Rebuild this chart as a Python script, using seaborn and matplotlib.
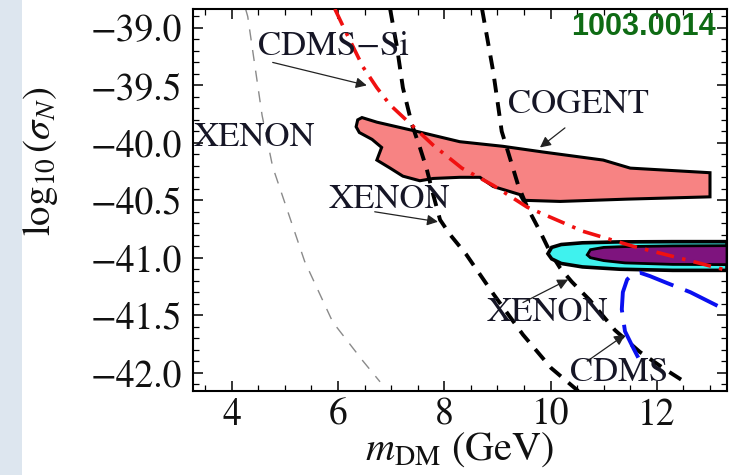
import matplotlib
matplotlib.use("Agg")
import matplotlib.pyplot as plt
import seaborn as sns
from matplotlib.patches import Rectangle
from matplotlib.ticker import MultipleLocator

sns.set_theme(style="ticks")
plt.rcParams['font.family'] = ['STIXGeneral', 'DejaVu Serif']
plt.rcParams['mathtext.fontset'] = 'stix'
plt.rcParams['lines.scale_dashes'] = False
plt.rcParams['axes.unicode_minus'] = True

# ---------------- data ----------------
x_ticks = [4, 6, 8, 10, 12]
x_tick_labels = ["4", "6", "8", "10", "12"]
y_ticks = [-42.0, -41.5, -41.0, -40.5, -40.0, -39.5, -39.0]
y_tick_labels = ["\u221242.0", "\u221241.5", "\u221241.0", "\u221240.5",
                 "\u221240.0", "\u221239.5", "\u221239.0"]

# thin grey dashed XENON curve
xenon_thin_x = [4.26, 4.30, 4.57, 4.77, 5.37, 5.90, 6.47, 6.79]
xenon_thin_y = [-38.835, -38.90, -39.76, -40.21, -41.03, -41.56, -41.90, -42.08]

# red dash-dot CDMS-Si curve
cdms_si_x = [5.94, 6.13, 6.47, 6.73, 6.98, 7.35, 7.79, 8.33, 8.92, 9.56, 10.61, 11.55, 12.57, 13.32]
cdms_si_y = [-38.835, -39.02, -39.34, -39.52, -39.67, -39.83, -40.02, -40.22, -40.37, -40.56,
             -40.77, -40.90, -41.02, -41.11]

# black dashed XENON curve (left)
xenon1_x = [6.98, 7.11, 7.22, 7.39, 7.54, 7.67, 7.79, 7.92, 8.11, 8.41, 8.93, 9.48, 10.01, 10.52]
xenon1_y = [-38.835, -39.17, -39.52, -39.84, -40.04, -40.23, -40.45, -40.67, -40.80, -40.97,
            -41.32, -41.67, -41.96, -42.16]

# black dashed XENON curve (right)
xenon2_x = [8.71, 8.82, 8.92, 9.01, 9.08, 9.20, 9.39, 9.56, 9.80, 9.99, 10.18, 10.40, 10.74,
            11.21, 11.68, 12.15, 12.59]
xenon2_y = [-38.835, -39.12, -39.38, -39.67, -39.90, -40.08, -40.37, -40.56, -40.77, -40.95,
            -41.09, -41.21, -41.37, -41.63, -41.82, -41.97, -42.10]

# CoGeNT region (pink): upper edge left->right, then lower edge right->left
cogent_x = [6.37, 6.45, 6.73, 7.48, 8.29, 9.10, 9.86, 10.99, 11.50, 13.00,
            13.00, 11.44, 10.18, 9.48, 9.42, 8.92, 8.67, 8.29, 7.79, 7.54, 7.22, 6.98, 6.73,
            6.82, 6.64, 6.40, 6.34]
cogent_y = [-39.80, -39.78, -39.82, -39.90, -39.99, -40.03, -40.08, -40.15, -40.22, -40.26,
            -40.47, -40.49, -40.51, -40.50, -40.45, -40.38, -40.30, -40.30, -40.31, -40.33,
            -40.29, -40.22, -40.15, -40.04, -39.97, -39.91, -39.86]

# DAMA-like regions (cyan outer, purple inner)
outer_x = [9.95, 10.02, 10.20, 10.60, 11.30, 12.30, 13.32,
           13.32, 12.30, 11.30, 10.60, 10.20, 10.02]
outer_y = [-40.965, -40.91, -40.885, -40.870, -40.862, -40.860, -40.860,
           -41.11, -41.11, -41.10, -41.08, -41.05, -41.01]
inner_x = [10.69, 10.75, 11.00, 11.40, 12.30, 13.32,
           13.32, 12.30, 11.40, 11.00, 10.75]
inner_y = [-40.975, -40.93, -40.91, -40.903, -40.897, -40.895,
           -41.06, -41.058, -41.045, -41.025, -41.00]

# blue long-dashed CDMS curve
cdms_x = [11.65, 11.55, 11.40, 11.34, 11.36, 11.44, 11.55, 11.68, 11.87, 12.19, 12.63, 13.19]
cdms_y = [-41.87, -41.78, -41.64, -41.45, -41.30, -41.19, -41.14, -41.13, -41.16, -41.22,
          -41.30, -41.43]

# annotation labels: text, text centre, arrow tail, arrow head
labels = ["CDMS\u2212Si", "COGENT", "XENON", "XENON", "CDMS"]
label_x = [5.92, 10.52, 6.96, 9.95, 11.29]
label_y = [-39.17, -39.67, -40.50, -41.478, -42.00]
arrow_from_x = [4.77, 10.27, 6.69, 9.48, 10.69]
arrow_from_y = [-39.30, -39.87, -40.60, -41.39, -41.90]
arrow_to_x = [6.54, 9.80, 7.88, 10.33, 11.40]
arrow_to_y = [-39.50, -40.04, -40.687, -41.19, -41.67]

# ---------------- figure ----------------
fig = plt.figure(figsize=(7.33, 4.75), dpi=100)
fig.patch.set_facecolor('white')
fig.patches.append(Rectangle((0, 0), 22 / 733, 1, transform=fig.transFigure,
                             facecolor='#dde6ef', edgecolor='none', zorder=0))
ax = fig.add_axes([193 / 733, 1 - 391 / 475, 534 / 733, 382 / 475])
ax.set_facecolor('white')

# CoGeNT region
ax.fill(cogent_x, cogent_y, facecolor='#f78383', edgecolor='black', linewidth=2.2, zorder=1)

# curves
sns.lineplot(x=xenon_thin_x, y=xenon_thin_y, sort=False, estimator=None, ax=ax,
             color='#8a8a8a', linewidth=1.0, linestyle=(0, (8, 7)), zorder=2)
sns.lineplot(x=xenon1_x, y=xenon1_y, sort=False, estimator=None, ax=ax,
             color='black', linewidth=2.8, linestyle=(0, (10, 7)), zorder=2)
sns.lineplot(x=xenon2_x, y=xenon2_y, sort=False, estimator=None, ax=ax,
             color='black', linewidth=2.8, linestyle=(0, (10, 7)), zorder=2)

# DAMA-like regions
ax.fill(outer_x, outer_y, facecolor='#3ff2ee', edgecolor='black', linewidth=2.6, zorder=3)
ax.fill(inner_x, inner_y, facecolor='#7e147e', edgecolor='black', linewidth=2.0, zorder=3)

sns.lineplot(x=cdms_si_x, y=cdms_si_y, sort=False, estimator=None, ax=ax,
             color='#f01010', linewidth=2.6, linestyle=(0, (13, 6, 2.5, 6)), zorder=4)
sns.lineplot(x=cdms_x, y=cdms_y, sort=False, estimator=None, ax=ax,
             color='#0a10f0', linewidth=2.8, linestyle=(0, (26, 9)), zorder=4)

# labels with arrows
txt_color = '#161626'
for t, tx, ty, fx, fy, hx, hy in zip(labels, label_x, label_y, arrow_from_x, arrow_from_y,
                                     arrow_to_x, arrow_to_y):
    ax.text(tx, ty, t, ha='center', va='center', fontsize=25, color=txt_color, zorder=6)
    ax.annotate("", xy=(hx, hy), xytext=(fx, fy),
                arrowprops=dict(arrowstyle='-|>', color='#222222', lw=0.9,
                                mutation_scale=16, shrinkA=0, shrinkB=0), zorder=6)

# XENON label on the thin curve (no arrow), starts at the left frame
ax.text(3.29, -39.957, "XENON", ha='left', va='center', fontsize=25, color=txt_color,
        zorder=6, clip_on=False)

# arXiv number
ax.text(0.978, 0.953, "1003.0014", transform=ax.transAxes, ha='right', va='center',
        fontsize=22, fontweight='bold', color='#0e6b14',
        family=['Liberation Sans', 'DejaVu Sans'], zorder=6)

# axes
ax.set_xlim(3.27, 13.32)
ax.set_ylim(-42.16, -38.835)
ax.set_xticks(x_ticks)
ax.set_xticklabels(x_tick_labels)
ax.set_yticks(y_ticks)
ax.set_yticklabels(y_tick_labels)
ax.xaxis.set_minor_locator(MultipleLocator(0.5))
ax.yaxis.set_minor_locator(MultipleLocator(0.1))
ax.tick_params(which='both', direction='in', top=True, right=True, color='black')
ax.tick_params(which='major', length=7, width=1.1, labelsize=27, pad=5, labelcolor='#111111')
ax.tick_params(axis='y', which='major', pad=8)
ax.tick_params(which='minor', length=4, width=0.9)
for s in ax.spines.values():
    s.set_color('black')
    s.set_linewidth(1.5)

ax.set_xlabel(r'$m_{\rm DM}$ (GeV)', fontsize=29, color='#111111', labelpad=-2)
ax.set_ylabel(r'$\log_{10}(\sigma_N)$', fontsize=28, color='#111111')
ax.yaxis.set_label_coords(-0.25, 0.60)

fig.savefig('out.png', dpi=100)
